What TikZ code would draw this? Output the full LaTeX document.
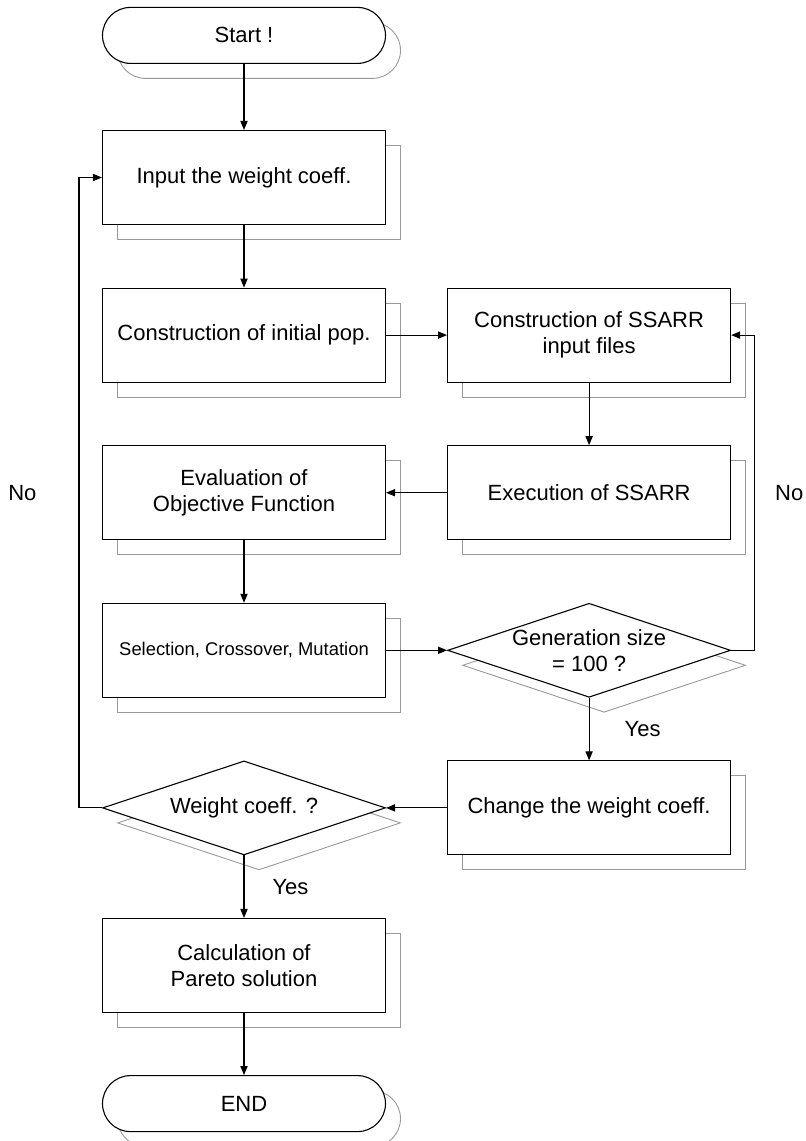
\documentclass[tikz,border=0pt]{standalone}
\usepackage{fontspec}
\setmainfont{Liberation Sans}
\usetikzlibrary{arrows.meta, positioning, shapes.geometric, shadows}

\begin{document}
\begin{tikzpicture}[
      % Node styles
      twin/.style={
          copy shadow={draw=black!40, fill=white, line width=0.45pt,
              shadow xshift=7.5pt, shadow yshift=-7.5pt},
        },
      process/.style={
          rectangle, draw, fill=white, twin, line width=0.55pt,
          minimum width=141.5pt, minimum height=47pt, inner sep=2pt,
          align=center, font=\fontsize{11}{13}\selectfont,
        },
      terminal/.style={
          process, rounded corners=14pt, minimum height=28pt,
        },
      decision/.style={
          diamond, aspect=3, draw, fill=white, twin, line width=0.55pt,
          minimum width=141.5pt, minimum height=47pt, inner sep=0pt,
          align=center, font=\fontsize{11}{13}\selectfont,
        },
      tag/.style={font=\fontsize{11}{13}\selectfont, inner sep=0pt},
      % Edge/arrow style
      flow/.style={
          draw, line width=0.55pt, -{Triangle[length=4.5pt, width=3.6pt]},
        },
      % vertical and horizontal spacing
      node distance=31.25pt and 30.5pt,
    ]
    \useasboundingbox (0,0) rectangle (402.5pt,-570.5pt);

    % --- Left column ---
    \node[process] (input) at (122pt,-88.75pt) {Input the weight coeff.};
    \node[terminal, above=33pt of input] (start) {Start !};
    \node[process, below=of input] (initpop) {Construction of initial pop.};
    \node[process, below=of initpop] (evalobj) {Evaluation of\\Objective Function};
    \node[process, below=of evalobj, font=\fontsize{9.2}{11}\selectfont] (genop) {Selection, Crossover, Mutation};
    \node[decision, below=of genop] (weightq) {Weight coeff. ?};
    \node[process, below=of weightq] (pareto) {Calculation of\\Pareto solution};
    \node[terminal, below=31pt of pareto] (stop) {END};

    % --- Right column ---
    \node[process, right=of initpop] (ssarrin) {Construction of SSARR\\input files};
    \node[process, below=of ssarrin] (ssarrrun) {Execution of SSARR};
    \node[decision, below=of ssarrrun] (genq) {Generation size\\= 100 ?};
    \node[process, below=of genq] (chweight) {Change the weight coeff.};

    % --- Connectors ---
    \draw[flow] (start) -- (input);
    \draw[flow] (input) -- (initpop);
    \draw[flow] (initpop) -- (ssarrin);
    \draw[flow] (ssarrin) -- (ssarrrun);
    \draw[flow] (ssarrrun) -- (evalobj);
    \draw[flow] (evalobj) -- (genop);
    \draw[flow] (genop) -- (genq);
    \draw[flow] (genq) -- node[tag, right=17.5pt] {Yes} (chweight);
    \draw[flow] (chweight) -- (weightq);
    \draw[flow] (weightq) -- node[tag, right=14pt] {Yes} (pareto);
    \draw[flow] (pareto) -- (stop);

    % --- Feedback loops ---
    \draw[flow] (weightq.west) -- ++(-11.5pt,0) |- node[tag, pos=0.25, left=21pt] {No} (input.west);
    \draw[flow] (genq.east) -- ++(11.75pt,0) |- node[tag, pos=0.25, right=10pt] {No} (ssarrin.east);
\end{tikzpicture}
\end{document}
